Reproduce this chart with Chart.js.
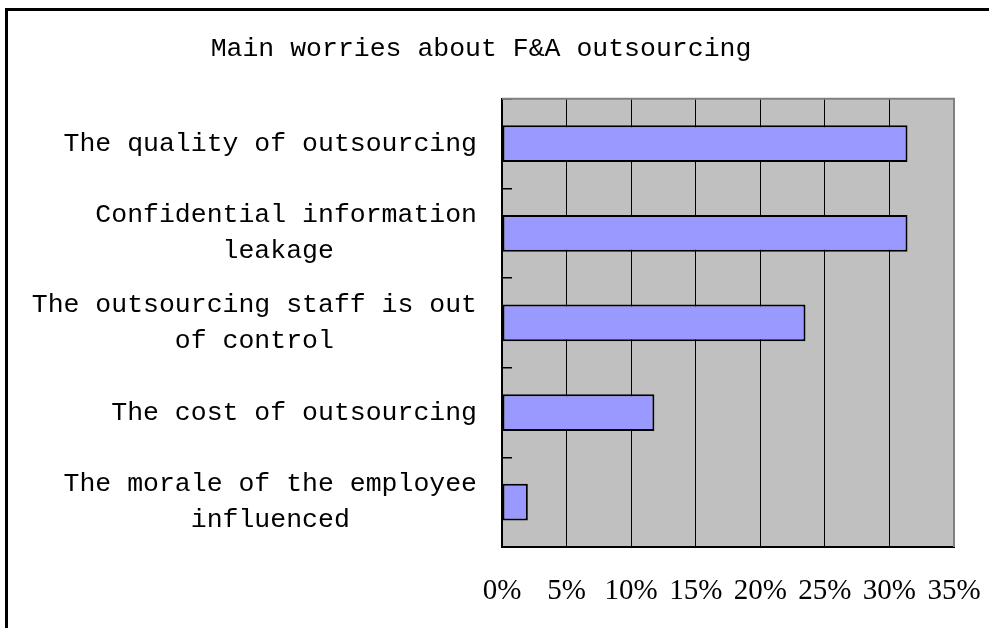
<!DOCTYPE html>
<html>
<head>
<meta charset="utf-8">
<title>Main worries about F&amp;A outsourcing</title>
<script src="https://cdn.jsdelivr.net/npm/chart.js@4/dist/chart.umd.min.js"></script>
<style>
  html, body { margin: 0; padding: 0; background: #fff; overflow: hidden; }
  #frame {
    position: absolute; left: 5px; top: 8px;
    border-left: 3px solid #000; border-top: 3px solid #000;
    width: 1000px; height: 640px;
  }
  canvas { display: block; }
</style>
</head>
<body>
<div id="frame"><canvas id="worries" width="1000" height="640"></canvas></div>
<script>
const chartTitle = 'Main worries about F&A outsourcing';
const worries = [
    ['The quality of outsourcing'],
    ['Confidential information', 'leakage'],
    ['The outsourcing staff is out', 'of control'],
    ['The cost of outsourcing'],
    ['The morale of the employee', 'influenced'],
];
const shares = [31.4, 31.4, 23.5, 11.8, 2.0];
const tickStep = 5;
const tickMax = 35;

const monoFont = 'Liberation Mono';

// centre the shorter lines of a label under the longest one (monospace font)
function centreLines(lines) {
    const longest = Math.max(...lines.map(l => l.length));
    return lines.map(l => {
        const gap = longest - l.length;
        const right = Math.ceil(gap / 2);
        return ' '.repeat(gap - right) + l + ' '.repeat(right);
    });
}

const plotBg = {
    id: 'plotBg',
    beforeDraw(chart) {
        const { ctx, chartArea: a } = chart;
        ctx.save();
        ctx.fillStyle = '#c0c0c0';
        ctx.fillRect(a.left, a.top, a.right - a.left, a.bottom - a.top);
        ctx.restore();
    },
    afterDraw(chart) {
        const { ctx, chartArea: a } = chart;
        ctx.save();
        ctx.strokeStyle = '#808080';
        ctx.lineWidth = 2;
        ctx.beginPath();
        ctx.moveTo(a.left, a.top);
        ctx.lineTo(a.right, a.top);
        ctx.lineTo(a.right, a.bottom);
        ctx.stroke();
        ctx.restore();
    }
};

const ctx = document.getElementById('worries').getContext('2d');
const myChart = new Chart(ctx, {
    type: 'bar',
    data: {
        labels: worries,
        datasets: [{
            data: shares,
            backgroundColor: '#9999ff',
            borderColor: '#000',
            borderWidth: 2,
            borderSkipped: false,
            categoryPercentage: 1,
            barPercentage: 0.41,
        }],
    },
    options: {
        indexAxis: 'y',
        responsive: false,
        animation: false,
        layout: { padding: { left: 0, right: 54, top: 0, bottom: 0 } },
        plugins: {
            legend: { display: false },
            tooltip: { enabled: false },
            title: {
                display: true,
                text: chartTitle,
                color: '#000',
                font: { family: monoFont, size: 26.5, weight: 'normal' },
                padding: { top: 22, bottom: 34 },
            },
        },
        scales: {
            x: {
                min: 0,
                max: tickMax,
                afterFit(scale) { scale.height = 104; },
                border: { color: '#000', width: 2 },
                grid: {
                    color: c => c.tick && c.tick.value === tickMax ? '#808080' : '#000',
                    lineWidth: 1,
                    drawTicks: false,
                },
                ticks: {
                    stepSize: tickStep,
                    padding: 27,
                    color: '#000',
                    font: { family: 'Liberation Serif', size: 29 },
                    callback: v => v + '%',
                },
            },
            y: {
                afterFit(scale) { scale.width = 494; },
                border: { color: '#000', width: 2 },
                grid: {
                    offset: true,
                    drawOnChartArea: false,
                    drawTicks: true,
                    tickLength: -10,
                    color: '#000',
                    lineWidth: 1.5,
                },
                ticks: {
                    padding: 35,
                    color: '#000',
                    font: { family: monoFont, size: 26.5, lineHeight: 1.36 },
                    callback: function (value) {
                        return centreLines(this.getLabelForValue(value));
                    },
                },
            },
        },
    },
    plugins: [plotBg],
});
</script>
</body>
</html>
